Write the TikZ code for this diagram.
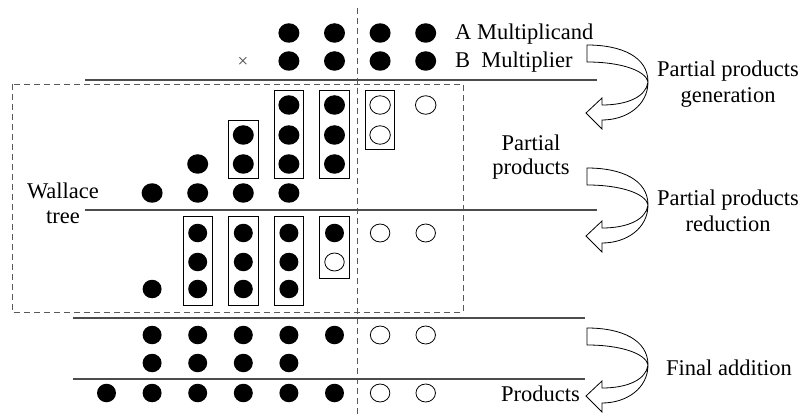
\documentclass[tikz,border=0pt]{standalone}
\usepackage{fontspec}
\setmainfont{Liberation Serif}
\usetikzlibrary{fit,shapes.geometric}
\begin{document}
\begin{tikzpicture}[x=1pt,y=-1pt,
  lbl/.style={inner sep=0pt,font=\fontsize{22.5}{26}\selectfont},
  bigdot/.style={ellipse,fill=black,inner sep=0pt,minimum width=21pt,minimum height=19.5pt},
  bigopen/.style={ellipse,draw=black,line width=0.8pt,fill=white,inner sep=0pt,minimum width=20.5pt,minimum height=18.5pt},
  smalldot/.style={ellipse,fill=black,inner sep=0pt,minimum width=19pt,minimum height=18.5pt},
  smallopen/.style={ellipse,draw=black,line width=0.8pt,fill=white,inner sep=0pt,minimum width=19.5pt,minimum height=18pt},
  rulebar/.style={draw=black!70,line width=1.2pt},
  guide/.style={draw=black!65,line width=0.9pt,dash pattern=on 6pt off 4pt},
  upbox/.style={draw=black,line width=0.8pt,inner xsep=4pt,inner ysep=4.5pt},
  lowbox/.style={draw=black,line width=0.8pt,inner xsep=5pt,inner ysep=7pt},
  uturn/.pic={
    \draw[line width=0.8pt,fill=white,line join=miter]
      (0,0) .. controls (35,0) and (61,12) .. (61,37)
      .. controls (61,60) and (40,75) .. (15,75)
      -- (15,84) -- (-1,68) -- (15,53) -- (15,60)
      .. controls (40,60) and (59,52) .. (61,37)
      .. controls (59,26) and (35,17) .. (0,17) -- cycle;
  }
]
\useasboundingbox (0,0) rectangle (801,417);

% column positions
\def\cx#1{106.5+45.6*(#1-1)}

% bit-position separator
\coordinate (vtop) at (357,8);
\coordinate (vbot) at (357,417);
\draw[guide] (vtop) -- (vbot);

% Wallace tree region
\draw[guide] (12,84) rectangle (463,312);

% horizontal rules
\coordinate (L1a) at (85,80);  \coordinate (L1b) at (597,80);
\coordinate (L2a) at (85,210); \coordinate (L2b) at (597,210);
\coordinate (L3a) at (73,318); \coordinate (L3b) at (585,318);
\coordinate (L4a) at (73,379); \coordinate (L4b) at (585,379);
\draw[rulebar] (L1a) -- (L1b);
\draw[rulebar] (L2a) -- (L2b);
\draw[rulebar] (L3a) -- (L3b);
\draw[rulebar] (L4a) -- (L4b);

% operands
\foreach \c in {5,...,8} {
  \node[bigdot] (r1c\c) at ({\cx{\c}},33) {};
  \node[bigdot] (r2c\c) at ({\cx{\c}},61) {};
}
\node[inner sep=0pt,text=black!70,font=\fontsize{19}{19}\selectfont] (mul) at (243,62) {×};

% partial products
\foreach \c in {5,6} \node[bigdot] (rac\c) at ({\cx{\c}},105) {};
\foreach \c in {7,8} \node[bigopen] (rac\c) at ({\cx{\c}},105) {};
\foreach \c in {4,5,6} \node[bigdot] (rbc\c) at ({\cx{\c}},135) {};
\node[bigopen] (rbc7) at ({\cx{7}},135) {};
\foreach \c in {3,...,6} \node[bigdot] (rcc\c) at ({\cx{\c}},164) {};
\foreach \c in {2,...,5} \node[bigdot] (rdc\c) at ({\cx{\c}},193) {};

\node[upbox,fit=(rbc4)(rcc4)] (g1) {};
\node[upbox,fit=(rac5)(rcc5)] (g2) {};
\node[upbox,fit=(rac6)(rcc6)] (g3) {};
\node[upbox,fit=(rac7)(rbc7)] (g4) {};

% reduced rows
\foreach \c in {3,...,6} \node[smalldot] (rec\c) at ({\cx{\c}},233) {};
\foreach \c in {7,8} \node[smallopen] (rec\c) at ({\cx{\c}},233) {};
\foreach \c in {3,4,5} \node[smalldot] (rfc\c) at ({\cx{\c}},262) {};
\node[smallopen] (rfc6) at ({\cx{6}},262) {};
\foreach \c in {2,...,5} \node[smalldot] (rgc\c) at ({\cx{\c}},289) {};

\node[lowbox,fit=(rec3)(rgc3)] (h1) {};
\node[lowbox,fit=(rec4)(rgc4)] (h2) {};
\node[lowbox,fit=(rec5)(rgc5)] (h3) {};
\node[lowbox,fit=(rec6)(rfc6)] (h4) {};

% final addition operands
\foreach \c in {2,...,6} \node[smalldot] (rhc\c) at ({\cx{\c}},335) {};
\foreach \c in {7,8} \node[smallopen] (rhc\c) at ({\cx{\c}},335) {};
\foreach \c in {2,...,5} \node[smalldot] (ric\c) at ({\cx{\c}},363) {};

% products
\foreach \c in {1,...,6} \node[smalldot] (rjc\c) at ({\cx{\c}},393) {};
\foreach \c in {7,8} \node[smallopen] (rjc\c) at ({\cx{\c}},393) {};

% stage arrows
\pic (a1) at (587,45) {uturn};
\pic (a2) at (587,168) {uturn};
\pic (a3) at (587,328) {uturn};

% labels
\node[lbl,anchor=base west] (mcand) at (455,40) {A Multiplicand};
\node[lbl,anchor=base west] (mplier) at (455,68) {B\hspace{0.25em} Multiplier};
\node[lbl,anchor=base] (gen1) at (728,77) {Partial products};
\node[lbl,anchor=base] (gen2) at (728,103) {generation};
\node[lbl,anchor=base] (pp1) at (531,151) {Partial};
\node[lbl,anchor=base] (pp2) at (531,175) {products};
\node[lbl,anchor=base] (red1) at (728,205) {Partial products};
\node[lbl,anchor=base] (red2) at (728,231) {reduction};
\node[lbl,anchor=base] (wal1) at (63,198) {Wallace};
\node[lbl,anchor=base] (wal2) at (63,223) {tree};
\node[lbl,anchor=base west] (fin) at (666,375) {Final addition};
\node[lbl,anchor=base east] (prod) at (580,401) {Products};
\end{tikzpicture}
\end{document}
